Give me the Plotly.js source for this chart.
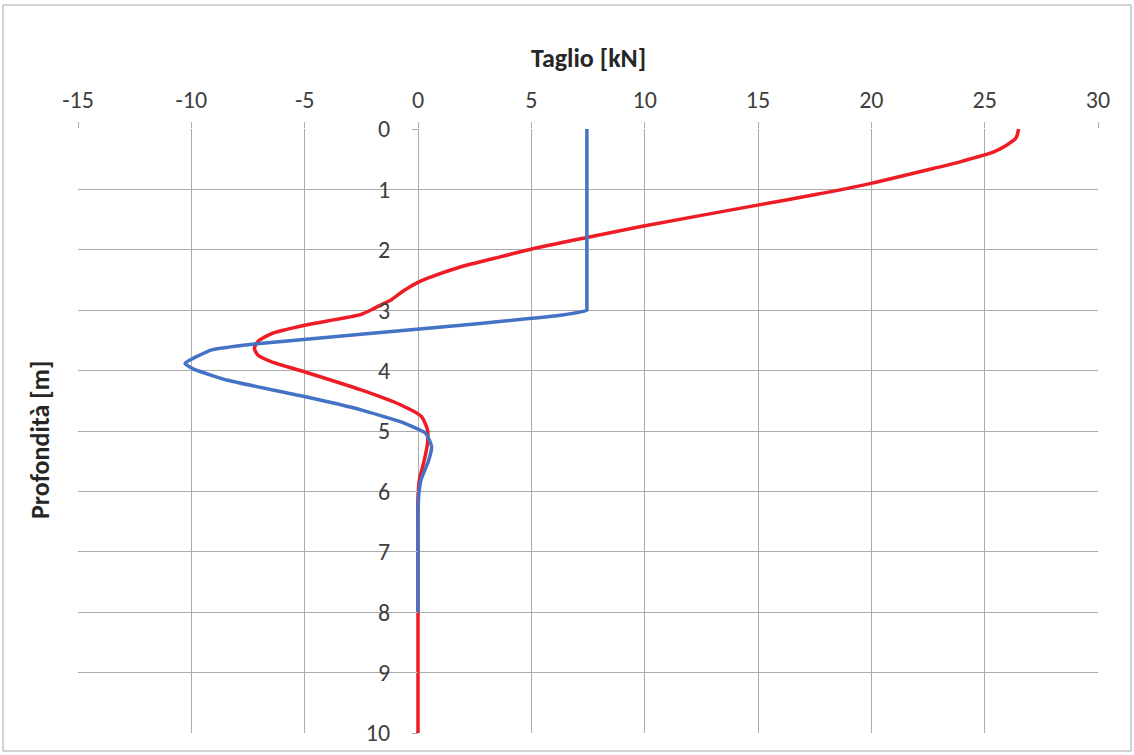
<!DOCTYPE html>
<html>
<head>
<meta charset="utf-8">
<script src="https://cdn.plot.ly/plotly-3.0.1.min.js"></script>
<style>html,body{margin:0;padding:0;background:#fff;}#chart{width:1134px;height:755px;}</style>
</head>
<body>
<div id="chart"></div>
<script>
// Red series: depth [m] and shear [kN]
const redDepth = [0, 0.15, 0.26, 0.38, 0.54, 0.65, 0.9, 1.09, 1.26, 1.61, 1.8, 1.99, 2.14, 2.28, 2.47, 2.54, 2.67, 2.83, 2.91, 2.97, 3.07, 3.25, 3.39, 3.52, 3.63, 3.74, 3.85, 4.02, 4.32, 4.57, 4.76, 4.98, 5.2, 5.48, 5.81, 6.1, 7, 8, 9, 10];
const redShear = [26.5, 26.38, 26.0, 25.4, 23.95, 22.77, 19.98, 17.48, 14.98, 9.9, 7.4, 4.98, 3.37, 1.9, 0.43, 0, -0.6, -1.19, -1.63, -1.93, -2.51, -5.0, -6.48, -7.07, -7.22, -7.07, -6.48, -5.01, -2.51, -0.75, 0.15, 0.42, 0.42, 0.28, 0.06, 0, 0, 0, 0, 0];
// Blue series
const blueDepth = [0, 1, 2, 2.95, 3.0, 3.08, 3.25, 3.56, 3.66, 3.88, 3.98, 4.16, 4.43, 4.65, 4.85, 5.04, 5.26, 5.51, 5.81, 6.0, 6.36, 7, 8];
const blueShear = [7.45, 7.45, 7.45, 7.45, 7.45, 6.38, 1.9, -7.22, -9.13, -10.28, -9.87, -8.4, -5.01, -2.51, -0.75, 0.35, 0.6, 0.45, 0.13, 0.05, 0, 0, 0];

const xTicks = [-15, -10, -5, 0, 5, 10, 15, 20, 25, 30];
const yTicks = [0, 1, 2, 3, 4, 5, 6, 7, 8, 9, 10];

const FONT = "Carlito, Lato, 'Open Sans', sans-serif";
const GRID = '#ababab';

const traces = [
  {x: redShear, y: redDepth, mode: 'lines', line: {color: '#ee1c25', width: 3.5, shape: 'spline', smoothing: 0.6}, hoverinfo: 'x+y'},
  {x: blueShear, y: blueDepth, mode: 'lines', line: {color: '#4472c4', width: 3.5, shape: 'spline', smoothing: 0.4}, hoverinfo: 'x+y'}
];

const layout = {
  width: 1134, height: 755,
  margin: {l: 78, r: 36, t: 129, b: 22},
  paper_bgcolor: '#fff', plot_bgcolor: '#fff',
  showlegend: false,
  font: {family: FONT, size: 24, color: '#404040'},
  xaxis: {
    side: 'top', range: [-15, 30], tickvals: xTicks, ticktext: xTicks.map(String),
    showgrid: true, gridcolor: GRID, gridwidth: 1, zeroline: false,
    ticks: 'outside', ticklen: 6, tickcolor: GRID, showline: false,
    ticklabelstandoff: 4,
    tickfont: {family: FONT, size: 24, color: '#404040'}
  },
  yaxis: {
    range: [10, 0], tickvals: yTicks, ticktext: yTicks.map(String),
    anchor: 'free', position: 1/3,
    showgrid: true, gridcolor: GRID, gridwidth: 1, zeroline: false,
    ticks: 'outside', ticklen: 6, tickcolor: GRID, showline: false,
    ticklabelstandoff: 17,
    tickfont: {family: FONT, size: 24, color: '#404040'}
  },
  annotations: [
    {text: '<b>Taglio [kN]</b>', xref: 'paper', yref: 'paper', x: 0.5, y: (733 - 58) / 604,
     xanchor: 'center', yanchor: 'middle', showarrow: false, font: {family: FONT, size: 26, color: '#262626'}},
    {text: '<b>Profondità [m]</b>', xref: 'paper', yref: 'paper', x: (40 - 78) / 1020, y: (733 - 440) / 604,
     xanchor: 'center', yanchor: 'middle', textangle: -90, showarrow: false, font: {family: FONT, size: 26, color: '#262626'}}
  ],
  shapes: [
    {type: 'rect', xref: 'paper', yref: 'paper', x0: (3 - 78) / 1020, x1: (1131 - 78) / 1020,
     y0: (733 - 751) / 604, y1: (733 - 5) / 604, line: {color: '#a6a6a6', width: 1}, fillcolor: 'rgba(0,0,0,0)', layer: 'below'}
  ]
};

Plotly.newPlot('chart', traces, layout, {displayModeBar: false, staticPlot: true});
</script>
</body>
</html>
